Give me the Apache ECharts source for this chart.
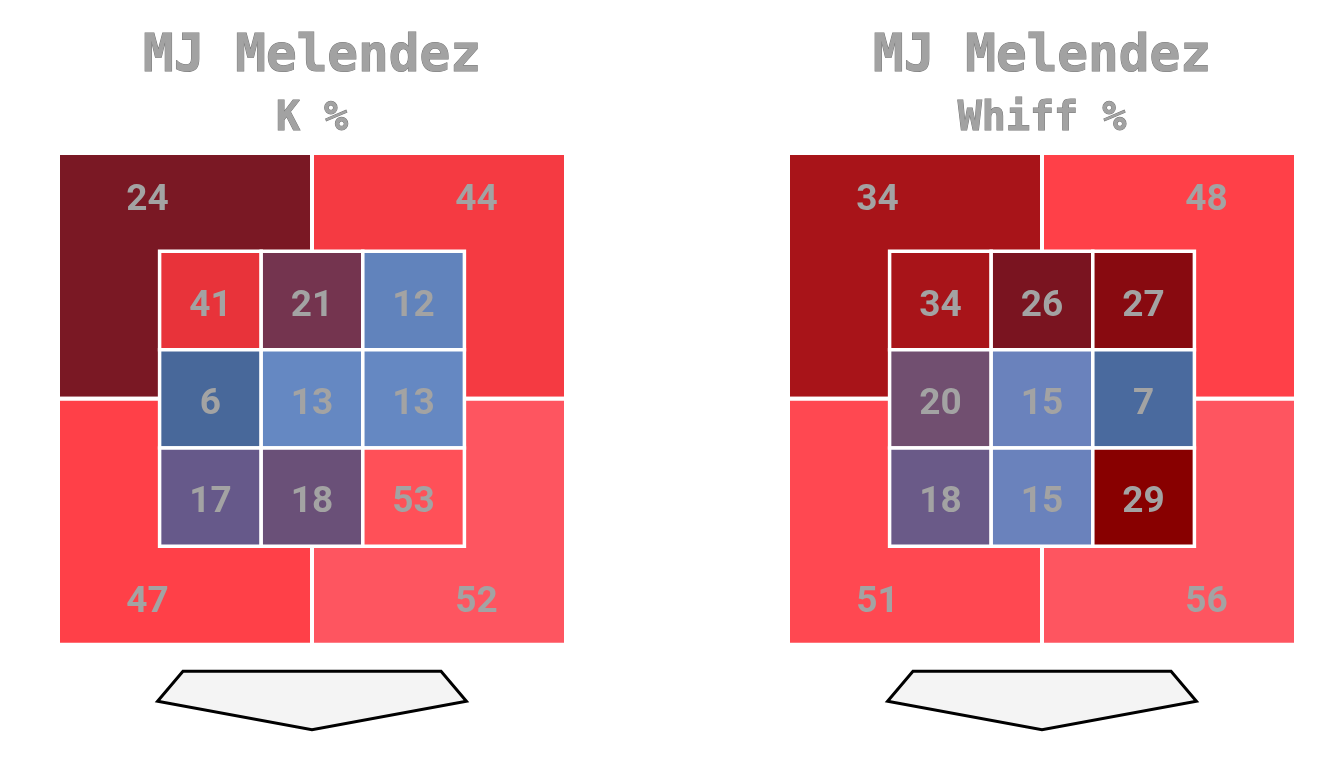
<!DOCTYPE html>
<html lang="en">
<head>
  <meta charset="UTF-8">
  <title>MJ Melendez - zone K% / Whiff%</title>
  <style>
    html, body { margin: 0; padding: 0; background: #fff; }
    #chart { width: 1341px; height: 767px; }
  </style>
</head>
<body>
<div id="chart"></div>
<script src="https://cdn.jsdelivr.net/npm/echarts@6/dist/echarts.min.js"></script>
<script>
var player = 'MJ Melendez';
var metrics = ['K %', 'Whiff %'];

// heart of the zone, left to right, top row first
var kZone = [41, 21, 12, 6, 13, 13, 17, 18, 53];
var whiffZone = [34, 26, 27, 20, 15, 7, 18, 15, 29];

// shadow quadrants: up-left, up-right, down-left, down-right
var kShadow = [24, 44, 47, 52];
var whiffShadow = [34, 48, 51, 56];

// colour ramps (value -> colour) as they look in the picture
var kRamp = [
  [6, '#48689a'], [13, '#6588c2'], [17, '#66598a'], [18, '#6a5078'],
  [21, '#74344f'], [24, '#7a1824'], [41, '#e8333a'], [44, '#f53a42'],
  [47, '#ff4048'], [52, '#fe5560'], [53, '#ff5058']
];
var whiffRamp = [
  [7, '#4a6a9e'], [15, '#6a82bc'], [18, '#6a5a88'], [20, '#714f70'],
  [26, '#7a1420'], [27, '#880a10'], [29, '#880000'], [34, '#a81419'],
  [48, '#ff4048'], [56, '#fe5560']
];

function rampColor(ramp, v) {
  if (v <= ramp[0][0]) return ramp[0][1];
  for (var i = 1; i < ramp.length; i++) {
    if (v <= ramp[i][0]) {
      var t = (v - ramp[i - 1][0]) / (ramp[i][0] - ramp[i - 1][0]);
      return echarts.color.lerp(t, [ramp[i - 1][1], ramp[i][1]]);
    }
  }
  return ramp[ramp.length - 1][1];
}

var numStyle = {
  fill: '#a3a3a3',
  font: 'bold 37px Roboto',
  align: 'center',
  verticalAlign: 'middle',
  shadowColor: 'rgba(0,0,0,0.35)',
  shadowOffsetX: 1,
  shadowOffsetY: 1,
  shadowBlur: 1
};

function rectBetween(a, b) {
  return {
    x: Math.min(a[0], b[0]),
    y: Math.min(a[1], b[1]),
    width: Math.abs(b[0] - a[0]),
    height: Math.abs(b[1] - a[1])
  };
}

function label(p, v) {
  // +3px: glyphs sit a little high with verticalAlign middle
  return { type: 'text', x: p[0], y: p[1] + 3, z2: 5,
    style: Object.assign({ text: String(v) }, numStyle) };
}

function shadowRender(ramp) {
  return function (params, api) {
    var q = api.value(0), v = api.value(1);
    var right = q % 2 === 1, low = q >= 2;
    var a = api.coord([right ? 1.5 : -1, low ? 1.5 : -1]);
    var b = api.coord([right ? 4 : 1.5, low ? 4 : 1.5]);
    var p = api.coord([right ? 3.12 : -0.12, low ? 3.54 : -0.55]);
    return {
      type: 'group',
      children: [
        { type: 'rect', shape: rectBetween(a, b),
          style: { fill: rampColor(ramp, v), stroke: '#fff', lineWidth: 4 } },
        label(p, v)
      ]
    };
  };
}

function zoneRender(ramp) {
  return function (params, api) {
    var c = api.value(0), r = api.value(1), v = api.value(2);
    var a = api.coord([c, r]), b = api.coord([c + 1, r + 1]);
    var p = api.coord([c + 0.5, r + 0.53]);
    return {
      type: 'group',
      children: [
        { type: 'rect', shape: rectBetween(a, b),
          style: { fill: rampColor(ramp, v), stroke: '#fff', lineWidth: 3.5 } },
        label(p, v)
      ]
    };
  };
}

function plateRender(params, api) {
  var pts = [[0.23, 4.27], [2.77, 4.27], [3.02, 4.575], [1.5, 4.865], [-0.02, 4.575]];
  return {
    type: 'polygon',
    shape: { points: pts.map(function (p) { return api.coord(p); }) },
    style: { fill: '#f4f4f4', stroke: '#000', lineWidth: 3, lineJoin: 'miter' }
  };
}

var panelData = [
  { zone: kZone, shadow: kShadow, ramp: kRamp },
  { zone: whiffZone, shadow: whiffShadow, ramp: whiffRamp }
];
var panelLeft = [58, 788];

var grids = [], xAxes = [], yAxes = [], series = [], titles = [];
panelData.forEach(function (pd, i) {
  grids.push({ left: panelLeft[i], top: 153, width: 508, height: 590 });
  xAxes.push({ type: 'value', gridIndex: i, min: -1, max: 4, show: false });
  yAxes.push({ type: 'value', gridIndex: i, min: -1, max: 5, inverse: true, show: false });

  series.push({
    type: 'custom', xAxisIndex: i, yAxisIndex: i, silent: true,
    renderItem: shadowRender(pd.ramp),
    encode: { x: -1, y: -1 },
    data: pd.shadow.map(function (v, q) { return [q, v]; })
  });
  series.push({
    type: 'custom', xAxisIndex: i, yAxisIndex: i, silent: true, z: 3,
    renderItem: zoneRender(pd.ramp),
    encode: { x: -1, y: -1 },
    data: pd.zone.map(function (v, k) { return [k % 3, Math.floor(k / 3), v]; })
  });
  series.push({
    type: 'custom', xAxisIndex: i, yAxisIndex: i, silent: true,
    renderItem: plateRender,
    encode: { x: -1, y: -1 },
    data: [[0]]
  });

  var cx = panelLeft[i] + 249;
  titles.push({
    text: player, left: cx, top: 28, textAlign: 'center',
    textStyle: {
      fontFamily: 'DejaVu Sans Mono', fontWeight: 'bold', fontSize: 51, lineHeight: 50,
      color: '#a2a2a2', textBorderColor: '#767676', textBorderWidth: 1
    }
  });
  titles.push({
    text: metrics[i], left: cx, top: 95, textAlign: 'center',
    textStyle: {
      fontFamily: 'DejaVu Sans Mono', fontWeight: 'bold', fontSize: 40, lineHeight: 40,
      color: '#a2a2a2', textBorderColor: '#767676', textBorderWidth: 1
    }
  });
});

var chart = echarts.init(document.getElementById('chart'));
chart.setOption({
  animation: false,
  backgroundColor: '#fff',
  title: titles,
  grid: grids,
  xAxis: xAxes,
  yAxis: yAxes,
  series: series
});
</script>
</body>
</html>
